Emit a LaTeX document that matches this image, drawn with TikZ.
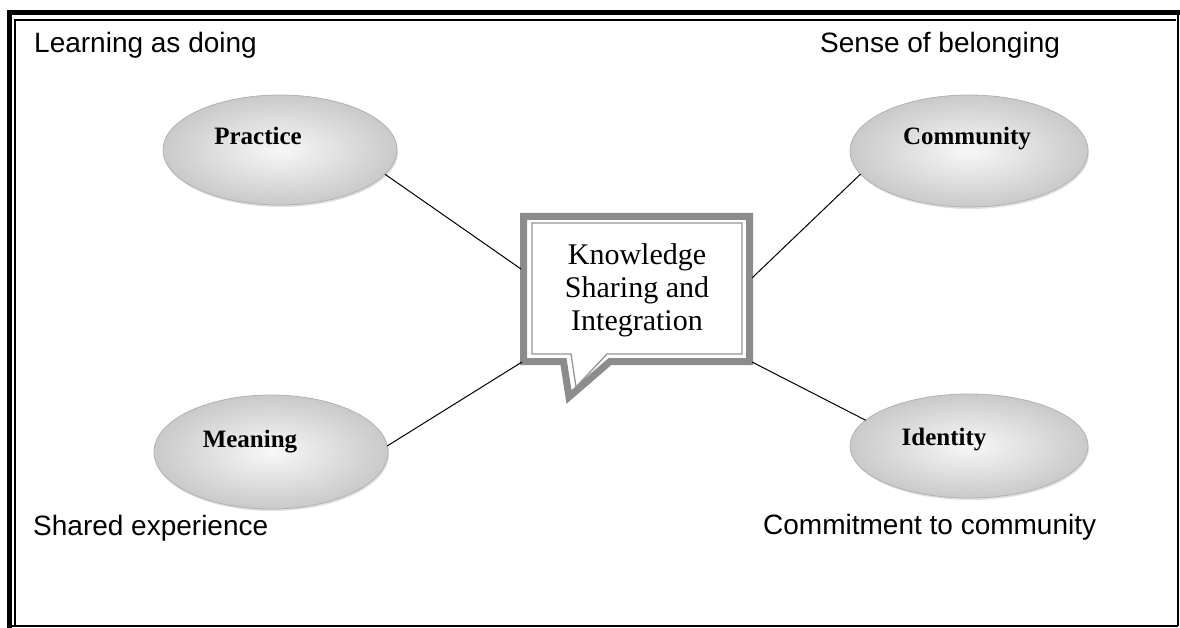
\documentclass[tikz,border=0pt]{standalone}
\usepackage{fontspec}
\setmainfont{Liberation Serif}
\newfontfamily\arialf{Liberation Sans}
\usetikzlibrary{shapes.geometric,shadows}
\begin{document}
\begin{tikzpicture}[x=1pt,y=-1pt,
  bubble/.style={ellipse, draw=gray!60, line width=0.8pt, inner sep=0pt, outer sep=0pt,
    inner color=gray!6, outer color=gray!42,
    drop shadow={opacity=0.25, shadow xshift=1pt, shadow yshift=-2pt}},
  btext/.style={font=\bfseries\fontsize{25}{29}\selectfont, anchor=base, inner sep=0pt},
  side/.style={font=\arialf\fontsize{28}{33}\selectfont, anchor=base west, inner sep=0pt},
  link/.style={draw=black, line width=1pt},
  band/.style={draw=black!45, line width=7pt, line join=miter},
  thin/.style={draw=black!42, line width=1.3pt, line join=miter},
]
\useasboundingbox (0,0) rectangle (1180,628);
% frame
\draw[line width=5pt, line cap=rect] (9,626) -- (9,13) -- (1178,13);
\draw[line width=1.5pt] (1178,13) -- (1178,626);
\draw[line width=2pt] (9,626) -- (1178,626);
\draw[line width=1.2pt] (15,626) -- (15,20) -- (1176,20);

% corner labels
\node[side] (lad) at (34,53) {Learning as doing};
\node[side] (sob) at (820,53) {Sense of belonging};
\node[side] (she) at (33,535) {Shared experience};
\node[side] (ctc) at (763,534) {Commitment to community};

% ellipses
\node[bubble, minimum width=234pt, minimum height=110pt] (pr) at (280,150) {};
\node[bubble, minimum width=238pt, minimum height=112pt] (cm) at (969,151) {};
\node[bubble, minimum width=234pt, minimum height=114pt] (mn) at (271,452) {};
\node[bubble, minimum width=238pt, minimum height=104pt] (id) at (969,446) {};
\node[btext] (prt) at (258,145) {Practice};
\node[btext] (cmt) at (967,145) {Community};
\node[btext] (mnt) at (250,447) {Meaning};
\node[btext] (idt) at (944,445) {Identity};

% callout
\draw[band] (523.5,216.5) -- (749.5,216.5) -- (749.5,361.5) -- (610,361.5)
  -- (569,397) -- (563.5,361.5) -- (523.5,361.5) -- cycle;
\draw[thin] (532,223) -- (742,223) -- (742,354) -- (607,354) -- (576,387)
  -- (571,354) -- (532,354) -- cycle;
\node[align=center, font=\fontsize{30}{33}\selectfont, inner sep=0pt] (kb) at (637,290)
  {Knowledge\\Sharing and\\Integration};
\coordinate (kbA) at (521,269);
\coordinate (kbB) at (522,362);
\coordinate (kbC) at (752,278);
\coordinate (kbD) at (752,362);

% connectors
\draw[link] (pr.-13) -- (kbA);
\draw[link] (mn.3.5) -- (kbB);
\draw[link] (cm.192.8) -- (kbC);
\draw[link] (id.166) -- (kbD);
\end{tikzpicture}
\end{document}
